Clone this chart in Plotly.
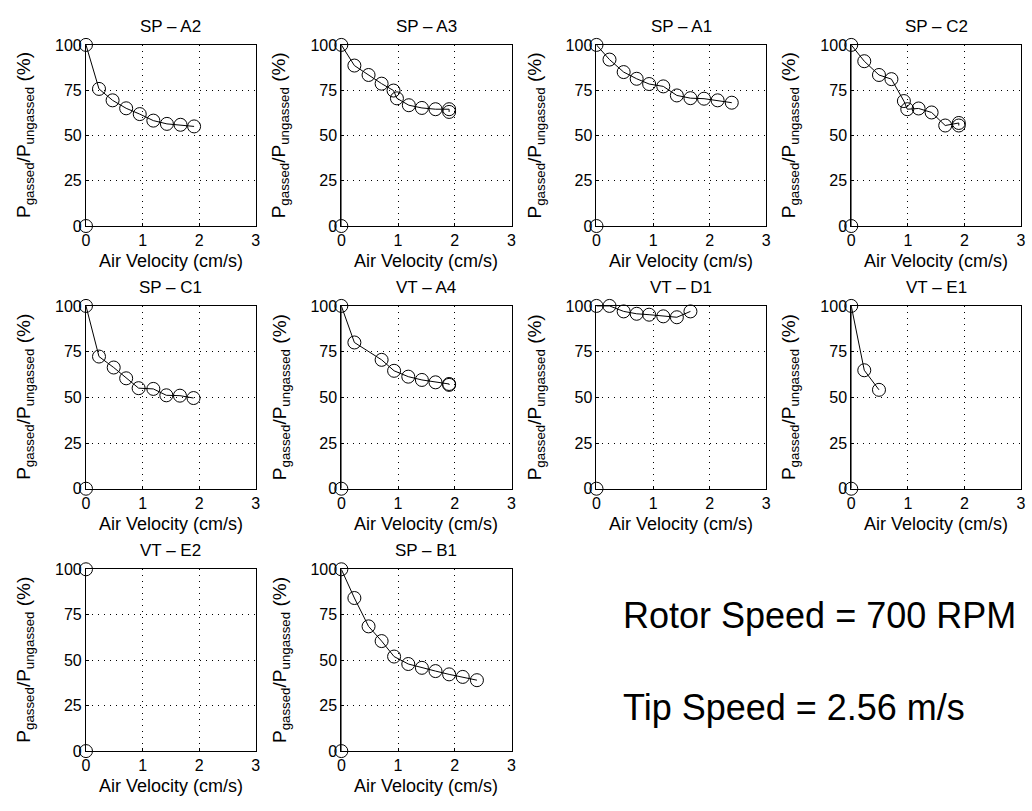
import plotly.graph_objects as go

# ---------------- data ----------------
titles = ["SP – A2", "SP – A3", "SP – A1", "SP – C2", "SP – C1",
          "VT – A4", "VT – D1", "VT – E1", "VT – E2", "SP – B1"]

sp_a2_x = [0, 0, 0.23, 0.47, 0.71, 0.95, 1.19, 1.43, 1.67, 1.91]
sp_a2_y = [0, 100, 75.7, 69.4, 65.0, 61.8, 58.2, 56.4, 55.9, 55.0]

sp_a3_x = [0, 0, 0.23, 0.48, 0.71, 0.92, 0.98, 1.19, 1.42, 1.66, 1.90, 1.90]
sp_a3_y = [0, 100, 88.6, 83.4, 78.6, 74.8, 70.5, 66.7, 65.2, 64.5, 64.5, 63.0]

sp_a1_x = [0, 0, 0.23, 0.48, 0.71, 0.93, 1.18, 1.42, 1.66, 1.90, 2.14, 2.39]
sp_a1_y = [0, 100, 91.9, 85.0, 81.3, 78.4, 77.1, 72.1, 70.6, 70.3, 69.4, 68.1]

sp_c2_x = [0, 0, 0.23, 0.49, 0.71, 0.93, 0.99, 1.19, 1.42, 1.66, 1.90, 1.90]
sp_c2_y = [0, 100, 91.0, 83.4, 81.1, 69.0, 64.5, 64.9, 62.7, 55.5, 56.9, 55.5]

sp_c1_x = [0, 0, 0.23, 0.49, 0.71, 0.93, 1.19, 1.42, 1.66, 1.90]
sp_c1_y = [0, 100, 72.3, 66.3, 60.4, 55.0, 54.6, 51.1, 50.9, 49.6]

vt_a4_x = [0, 0, 0.23, 0.71, 0.93, 1.18, 1.42, 1.66, 1.90, 1.90]
vt_a4_y = [0, 100, 80.0, 70.5, 64.5, 61.3, 59.5, 58.2, 57.3, 56.8]

vt_d1_x = [0, 0, 0.23, 0.48, 0.71, 0.93, 1.18, 1.42, 1.66]
vt_d1_y = [0, 100, 100, 97.0, 95.7, 95.2, 94.3, 93.8, 97.0]

vt_e1_x = [0, 0, 0.23, 0.49]
vt_e1_y = [0, 100, 64.8, 54.1]

vt_e2_x = [0, 0]
vt_e2_y = [0, 100]

sp_b1_x = [0, 0, 0.23, 0.48, 0.71, 0.93, 1.18, 1.42, 1.66, 1.90, 2.14, 2.39]
sp_b1_y = [0, 100, 84.2, 68.6, 60.5, 52.0, 47.9, 45.8, 44.0, 42.2, 40.8, 39.0]

series_x = [sp_a2_x, sp_a3_x, sp_a1_x, sp_c2_x, sp_c1_x, vt_a4_x, vt_d1_x, vt_e1_x, vt_e2_x, sp_b1_x]
series_y = [sp_a2_y, sp_a3_y, sp_a1_y, sp_c2_y, sp_c1_y, vt_a4_y, vt_d1_y, vt_e1_y, vt_e2_y, sp_b1_y]
# whether the (0,0) point is joined to the curve
joined = [False, True, False, True, False, True, False, True, False, True]

x_ticks = [0, 1, 2, 3]
y_ticks = [0, 25, 50, 75, 100]
x_label = "Air Velocity (cm/s)"
y_label = "P<sub>gassed</sub>/P<sub>ungassed</sub> (%)"
notes = ["Rotor Speed = 700 RPM", "Tip Speed = 2.56 m/s"]

# ---------------- layout geometry (pixels) ----------------
W, H = 1032, 811
rows = [(37.7, 222.7), (304.3, 491.0), (573.3, 759.0)]
cols = [(82.7, 254.0), (340.3, 512.0), (597.7, 769.0), (854.7, 1026.0)]
FONT = "Liberation Sans, Arial, Helvetica, sans-serif"

fig = go.Figure()
annotations = []

for i in range(len(titles)):
    r, c = divmod(i, 4)
    t, b = rows[r]
    l, rr = cols[c]
    xa = "xaxis" if i == 0 else f"xaxis{i+1}"
    ya = "yaxis" if i == 0 else f"yaxis{i+1}"
    xref = "x" if i == 0 else f"x{i+1}"
    yref = "y" if i == 0 else f"y{i+1}"
    xs, ys = series_x[i], series_y[i]
    style = dict(mode="lines+markers", line=dict(color="black", width=1),
                 marker=dict(symbol="circle-open", size=13, color="black",
                             line=dict(width=1, color="black")),
                 cliponaxis=False, showlegend=False, xaxis=xref, yaxis=yref)
    if joined[i]:
        fig.add_trace(go.Scatter(x=xs, y=ys, **style))
    else:
        fig.add_trace(go.Scatter(x=xs[:1], y=ys[:1], **style))
        fig.add_trace(go.Scatter(x=xs[1:], y=ys[1:], **style))

    axis_common = dict(showline=True, mirror=True, linecolor="black", linewidth=1,
                       showgrid=True, gridcolor="black", gridwidth=1, griddash="1px,5px",
                       zeroline=False, ticks="inside", ticklen=3, tickcolor="black",
                       tickfont=dict(family=FONT, size=16, color="black"),
                       fixedrange=True)
    fig.update_layout(**{
        xa: dict(domain=[l / W, rr / W], range=[0, 3], tickvals=x_ticks,
                 anchor=yref, **axis_common),
        ya: dict(domain=[1 - b / H, 1 - t / H], range=[0, 100], tickvals=y_ticks,
                 anchor=xref, **axis_common),
    })
    cx = (l + rr) / 2
    annotations.append(dict(text=titles[i], x=cx / W, y=1 - (t - 19) / H, xref="paper", yref="paper",
                            xanchor="center", yanchor="middle", showarrow=False,
                            font=dict(family=FONT, size=17, color="black")))
    annotations.append(dict(text=x_label, x=cx / W, y=1 - (b + 36) / H, xref="paper", yref="paper",
                            xanchor="center", yanchor="middle", showarrow=False,
                            font=dict(family=FONT, size=18, color="black")))
    annotations.append(dict(text=y_label, x=(l - 61) / W, y=1 - ((t + b) / 2) / H,
                            xref="paper", yref="paper", textangle=-90,
                            xanchor="center", yanchor="middle", showarrow=False,
                            font=dict(family=FONT, size=19, color="black")))

annotations.append(dict(text=notes[0], x=622 / W, y=1 - 621 / H, xref="paper", yref="paper",
                        xanchor="left", yanchor="middle", showarrow=False,
                        font=dict(family=FONT, size=36, color="black")))
annotations.append(dict(text=notes[1], x=622 / W, y=1 - 714 / H, xref="paper", yref="paper",
                        xanchor="left", yanchor="middle", showarrow=False,
                        font=dict(family=FONT, size=36, color="black")))

fig.update_layout(width=W, height=H, margin=dict(l=0, r=0, t=0, b=0),
                  paper_bgcolor="white", plot_bgcolor="white",
                  annotations=annotations, font=dict(family=FONT, color="black"))

fig.write_html("out.html")
